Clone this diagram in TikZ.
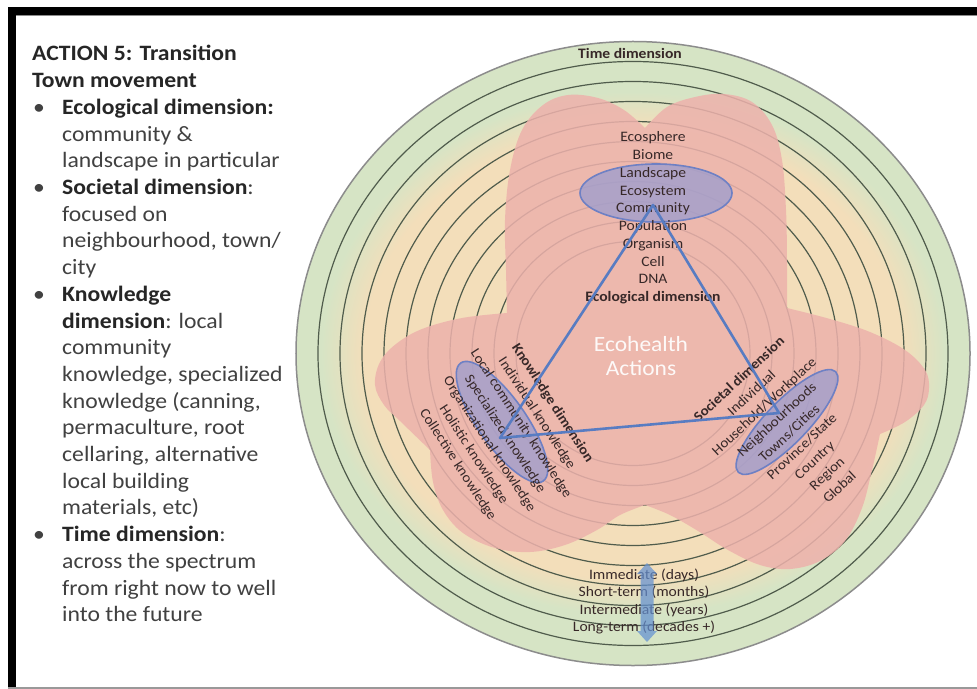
\documentclass[tikz,border=0pt]{standalone}
\usepackage{fontspec}
\setmainfont{Carlito}
\newfontfamily\dfont[FakeStretch=1.08]{Carlito}
\newfontfamily\lfont[FakeStretch=1.08]{Carlito}
\definecolor{ringgreen}{RGB}{214,228,197}
\definecolor{ringbeige}{RGB}{243,222,186}
\definecolor{petal}{RGB}{237,178,172}
\definecolor{lav}{RGB}{160,158,205}
\definecolor{lavline}{RGB}{110,128,196}
\definecolor{tri}{RGB}{88,124,194}
\definecolor{ringline}{RGB}{80,92,76}
\definecolor{txt}{RGB}{55,40,40}
\definecolor{ltxt}{RGB}{65,65,65}
\definecolor{arrowblue}{RGB}{100,145,210}
\pgfdeclareradialshading{beigefade}{\pgfpoint{0bp}{0bp}}{color(0bp)=(ringbeige); color(21.5bp)=(ringbeige); color(25bp)=(ringgreen); color(50bp)=(ringgreen)}
\newcommand\lbold[1]{\textbf{\color{black!85}#1}}
\tikzset{
  ltext/.style={anchor=base west, inner sep=0pt, text=ltxt, font=\lfont\fontsize{22}{26.7}\selectfont},
  dtext/.style={inner sep=0pt, text=txt, align=center, font=\dfont\fontsize{14.5}{17.8}\selectfont},
  ring/.style={draw=ringline, line width=1.2bp},
  blueoval/.style={draw=lavline, line width=1.6bp, fill=lav, fill opacity=0.8},
  lobe/.style={smooth, tension=0.6},
}
\begin{document}
\begin{tikzpicture}[x=1bp,y=-1bp]
\useasboundingbox (0,0) rectangle (977,689);
\fill[white] (0,0) rectangle (977,689);
% frame
\fill[black] (8,7.5) rectangle (977,15);
\fill[black!45] (8,15) rectangle (977,16.3);
\fill[black] (8,7.5) rectangle (15.5,689);
\fill[black!40] (8,686.5) rectangle (977,689);

% rings background
\fill[ringgreen] (633,353.5) ellipse [x radius=337bp, y radius=312bp];
\shade[shading=beigefade] (633,353.5) ellipse [x radius=312bp, y radius=262bp];
\draw[black!45, line width=1.5bp] (633,353.5) ellipse [x radius=337bp, y radius=312bp];
\foreach \k in {1,...,10}{
  \pgfmathsetmacro\rx{337-22*\k}
  \pgfmathsetmacro\ry{312-20*\k}
  \draw[ring] (633,353.5) ellipse [x radius=\rx bp, y radius=\ry bp];
}

% petals (outline of the overlapping pink lobes)
\fill[petal, fill opacity=0.86]
  plot[lobe] coordinates {(645,128) (667,107) (695,97) (724,94) (752,102) (772,125) (782,160) (786,210) (787,260) (787,308)}
  -- plot[lobe] coordinates {(787,308) (830,319) (870,332) (905,350) (925,370) (929,388) (924,405) (905,422) (880,434)}
  -- plot[lobe] coordinates {(880,434) (872,470) (862,508) (845,541) (820,561) (790,569) (760,565) (728,550) (698,531) (670,515) (645,505)}
  -- plot[lobe] coordinates {(645,505) (620,515) (597,530) (565,545) (530,552) (495,548) (463,533) (443,510) (433,482) (430,450)}
  -- plot[lobe] coordinates {(430,450) (400,421) (384,405) (375,385) (380,362) (396,344) (422,329) (462,318) (507,313)}
  -- plot[lobe] coordinates {(507,313) (506,270) (505,220) (510,170) (522,130) (543,105) (568,95) (598,98) (624,110) (645,128)}
  -- cycle;

% blue ovals
\path[blueoval] (656,193) circle [x radius=76bp, y radius=29bp];
\path[blueoval] (502,422) circle [x radius=72bp, y radius=24bp, rotate=-55];
\path[blueoval] (787,422) circle [x radius=70bp, y radius=21bp, rotate=46];

% diagram texts
\node[dtext, font=\dfont\bfseries\fontsize{14.5}{17}\selectfont] (timelbl) at (630,53) {Time dimension};
\node[dtext] (eco) at (653,218) {Ecosphere\\Biome\\Landscape\\Ecosystem\\Community\\Population\\Organism\\Cell\\DNA\\\textbf{Ecological dimension}};
\node[dtext, rotate=-57, font=\dfont\fontsize{14}{18.9}\selectfont] (know) at (505,434) {\textbf{Knowledge dimension}\\Individual knowledge\\Local community knowledge\\Specialized knowledge\\Organizational knowledge\\Holistic knowledge\\Collective knowledge};
\node[dtext, rotate=43, font=\dfont\fontsize{14}{18.5}\selectfont] (soc) at (789,433) {\textbf{Societal dimension}\\Individual\\Household/Workplace\\Neighbourhoods\\Towns/Cities\\Province/State\\Country\\Region\\Global};
\node[dtext, font=\dfont\fontsize{14.5}{17.7}\selectfont] (timelist) at (644,601.5) {Immediate (days)\\Short-term (months)\\Intermediate (years)\\Long-term (decades +)};
\node[dtext, text=white!92!petal, font=\dfont\fontsize{21.8}{25}\selectfont] (eh) at (641,356) {Ecohealth\\Actions};

% time arrow (double-headed block arrow)
\fill[arrowblue, fill opacity=0.72] (647,563) -- (657,574) -- (653.5,574) -- (653.5,631) -- (657,631) -- (647,642) -- (637,631) -- (640.5,631) -- (640.5,574) -- (637,574) -- cycle;

% triangle
\coordinate (tE) at (653,205);
\coordinate (tK) at (500,438);
\coordinate (tS) at (779,413);
\draw[tri, line width=2.6bp, line join=round] (tE) -- (tK) -- (tS) -- cycle;

% left text
\node[ltext] (h1) at (32,61) {\lbold{ACTION 5: Transition}};
\node[ltext] (h2) at (32,87.7) {\lbold{Town movement}};
\node[ltext] (bu1) at (33,114.4) {•};
\node[ltext] (l2) at (62,114.4) {\lbold{Ecological dimension:}};
\node[ltext] (l3) at (62,141.1) {community \&};
\node[ltext] (l4) at (62,167.8) {landscape in particular};
\node[ltext] (bu2) at (33,194.5) {•};
\node[ltext] (l5) at (62,194.5) {\lbold{Societal dimension}:};
\node[ltext] (l6) at (62,221.2) {focused on};
\node[ltext] (l7) at (62,247.9) {neighbourhood, town/};
\node[ltext] (l8) at (62,274.6) {city};
\node[ltext] (bu3) at (33,301.3) {•};
\node[ltext] (l9) at (62,301.3) {\lbold{Knowledge}};
\node[ltext] (l10) at (62,328) {\lbold{dimension}: local};
\node[ltext] (l11) at (62,354.7) {community};
\node[ltext] (l12) at (62,381.4) {knowledge, specialized};
\node[ltext] (l13) at (62,408.1) {knowledge (canning,};
\node[ltext] (l14) at (62,434.8) {permaculture, root};
\node[ltext] (l15) at (62,461.5) {cellaring, alternative};
\node[ltext] (l16) at (62,488.2) {local building};
\node[ltext] (l17) at (62,514.9) {materials, etc)};
\node[ltext] (bu4) at (33,541.6) {•};
\node[ltext] (l18) at (62,541.6) {\lbold{Time dimension}:};
\node[ltext] (l19) at (62,568.3) {across the spectrum};
\node[ltext] (l20) at (62,595) {from right now to well};
\node[ltext] (l21) at (62,621.7) {into the future};
\end{tikzpicture}
\end{document}
